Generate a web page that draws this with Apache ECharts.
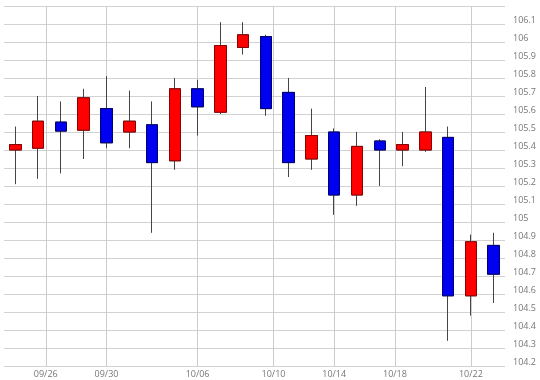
<!DOCTYPE html>
<html><head><meta charset="utf-8">
<script src="https://cdn.jsdelivr.net/npm/echarts@6/dist/echarts.min.js"></script>
<style>html,body{margin:0;padding:0;background:#fff}#c{width:540px;height:380px}</style>
</head><body><div id="c"></div>
<script>
// Trading days (2020)
const dates = ['2020-09-24','2020-09-25','2020-09-28','2020-09-29','2020-09-30','2020-10-01','2020-10-02',
  '2020-10-05','2020-10-06','2020-10-07','2020-10-08','2020-10-09','2020-10-12','2020-10-13','2020-10-14',
  '2020-10-15','2020-10-16','2020-10-19','2020-10-20','2020-10-21','2020-10-22','2020-10-23'];
const openV  = [105.40,105.41,105.555,105.51,105.63,105.50,105.54,105.34,105.74,105.61,105.97,106.03,105.72,105.35,105.50,105.15,105.45,105.40,105.40,105.47,104.59,104.87];
const closeV = [105.43,105.56,105.505,105.69,105.44,105.56,105.33,105.74,105.64,105.98,106.04,105.63,105.33,105.48,105.15,105.42,105.40,105.43,105.50,104.59,104.89,104.71];
const lowV   = [105.21,105.24,105.27,105.35,105.41,105.41,104.94,105.29,105.48,105.60,105.93,105.59,105.25,105.29,105.04,105.09,105.20,105.31,105.39,104.34,104.48,104.55];
const highV  = [105.53,105.70,105.67,105.74,105.81,105.73,105.67,105.80,105.79,106.11,106.11,106.04,105.80,105.63,105.52,105.50,105.46,105.50,105.75,105.53,104.93,104.94];
const tickDates = ['2020-09-26','2020-09-30','2020-10-06','2020-10-10','2020-10-14','2020-10-18','2020-10-22'];
const yMin = 104.2, yMax = 106.2, yStep = 0.1;

// Map calendar dates onto the trading-day axis (weekend days squeezed into the Fri->Mon gap)
const DAY = 86400000;
const t = s => Date.parse(s + 'T00:00:00Z');
const DIV = 6;
function posOf(ds) {
  const d = t(ds); let i = 0;
  for (let k = 0; k < dates.length; k++) if (t(dates[k]) <= d) i = k;
  return i + (d - t(dates[i])) / DAY / 3;
}
const slotOf = p => Math.round((p + 0.5) * DIV);
const nSlots = dates.length * DIV + 1;
const cats = Array.from({length: nSlots}, (_, i) => String(i));
const labelMap = new Map();
tickDates.forEach(ds => labelMap.set(slotOf(posOf(ds)), ds.slice(5).replace('-', '/')));
const isTick = i => labelMap.has(i);

const wickData = new Array(nSlots).fill('-');
const bodyData = new Array(nSlots).fill('-');
dates.forEach((ds, i) => {
  const s = slotOf(i);
  wickData[s] = [openV[i], closeV[i], lowV[i], highV[i]];
  bodyData[s] = [openV[i], closeV[i], Math.min(openV[i], closeV[i]), Math.max(openV[i], closeV[i])];
});

const chart = echarts.init(document.getElementById('c'), null, {renderer: 'canvas'});
const labelFont = {color: '#777', fontSize: 9, fontFamily: 'Open Sans'};
chart.setOption({
  animation: false,
  backgroundColor: '#fff',
  grid: {left: 4, right: 35, top: 6, bottom: 14, containLabel: false, outerBoundsMode: 'none'},
  xAxis: {
    type: 'category', data: cats, boundaryGap: false,
    axisLine: {show: false}, axisTick: {show: false},
    axisLabel: Object.assign({interval: isTick, formatter: (v, i) => labelMap.get(Number(v)) || '', margin: 4}, labelFont),
    splitLine: {show: true, interval: isTick, lineStyle: {color: '#cccccc', width: 1}}
  },
  yAxis: {
    type: 'value', position: 'right', min: yMin, max: yMax, interval: yStep, scale: true,
    axisLine: {show: false}, axisTick: {show: false},
    axisLabel: Object.assign({showMaxLabel: false, margin: 8, verticalAlign: 'bottom', lineHeight: 8}, labelFont),
    splitLine: {show: true, lineStyle: {color: '#d2d2d2', width: 1}}
  },
  series: [
    {type: 'candlestick', data: wickData, barWidth: 12, silent: true, z: 2,
     itemStyle: {color: '#ff0000', color0: '#0000f0', borderColor: '#444', borderColor0: '#444', borderWidth: 1}},
    {type: 'candlestick', data: bodyData, barWidth: 12, silent: true, z: 3,
     itemStyle: {color: '#ff0000', color0: '#0000f0', borderColor: '#8b0000', borderColor0: '#00006e', borderWidth: 1}}
  ]
});
</script></body></html>
